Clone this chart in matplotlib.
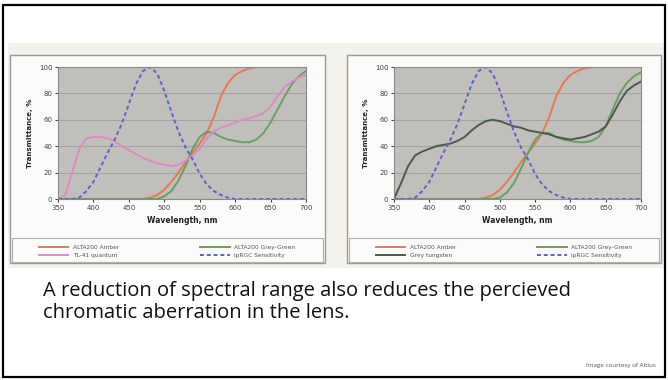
import numpy as np
import matplotlib.pyplot as plt
from matplotlib.patches import Rectangle

# Spectral transmittance curves
wl = [350, 360, 370, 380, 390, 400, 410, 420, 430, 440, 450, 460, 470, 480, 490,
      500, 510, 520, 530, 540, 550, 560, 570, 580, 590, 600, 610, 620, 630, 640,
      650, 660, 670, 680, 690, 700]

amber = [0, 0, 0, 0, 0, 0, 0, 0, 0, 0, 0, 0, 0, 1, 3,
         7, 13, 20, 28, 35, 42, 50, 62, 78, 88, 94, 97, 99, 100, 100,
         100, 100, 100, 100, 100, 100]

grey_green = [0, 0, 0, 0, 0, 0, 0, 0, 0, 0, 0, 0, 0, 0, 0,
              2, 6, 14, 25, 38, 47, 51, 50, 47, 45, 44, 43, 43, 45, 50,
              58, 68, 78, 87, 93, 97]

tl41 = [0, 3, 20, 38, 46, 47, 47, 46, 44, 40, 37, 34, 31, 29, 27,
        26, 25, 26, 29, 33, 38, 46, 51, 54, 56, 58, 60, 61, 63, 65,
        70, 78, 85, 89, 92, 94]

iprgc = [0, 0, 0, 1, 6, 13, 24, 35, 45, 57, 72, 87, 97, 100, 95,
         82, 66, 51, 39, 30, 19, 11, 6, 3, 1, 0, 0, 0, 0, 0,
         0, 0, 0, 0, 0, 0]

grey_green_r = [0, 0, 0, 0, 0, 0, 0, 0, 0, 0, 0, 0, 0, 0, 0,
                1, 5, 12, 23, 35, 45, 50, 50, 47, 45, 44, 43, 43, 44, 47,
                55, 68, 80, 88, 93, 96]

grey_lens = [0, 12, 25, 33, 36, 38, 40, 41, 42, 44, 47, 52, 56, 59, 60,
             59, 57, 55, 54, 52, 51, 50, 49, 47, 46, 45, 46, 47, 49, 51,
             55, 64, 74, 82, 86, 89]

xticks = [350, 400, 450, 500, 550, 600, 650, 700]
yticks = [0, 20, 40, 60, 80, 100]

W, H = 668, 380
fig = plt.figure(figsize=(W / 100, H / 100), dpi=100)
fig.patch.set_facecolor('white')


def px_rect(x0, y0, x1, y1):
    return [x0 / W, 1 - y1 / H, (x1 - x0) / W, (y1 - y0) / H]


def box(x0, y0, x1, y1, z=-5, **kw):
    fig.patches.append(Rectangle((x0 / W, 1 - y1 / H), (x1 - x0) / W, (y1 - y0) / H,
                                 transform=fig.transFigure, zorder=z, **kw))


# slide frame and pasted image backgrounds
box(3, 5, 665, 377, z=10, facecolor='none', edgecolor='black', linewidth=1.6)
box(8, 43, 664, 268, z=-10, facecolor='#f4f2ed', edgecolor='none')
box(10, 55, 325, 263, z=-9, facecolor='#fbfbf9', edgecolor='#9a9a9a', linewidth=1.0)
box(347, 55, 661, 263, z=-9, facecolor='#fbfbf9', edgecolor='#9a9a9a', linewidth=1.0)
# legend frames
box(12, 238, 323, 262, z=-8, facecolor='none', edgecolor='#b0b0b0', linewidth=0.8)
box(349, 238, 659, 262, z=-8, facecolor='none', edgecolor='#b0b0b0', linewidth=0.8)

c_amber = '#e27a55'
c_green = '#6a9e62'
c_pink = '#dc8cc4'
c_blue = '#6060c4'
c_dark = '#4c5a4c'


def setup(ax):
    ax.set_facecolor('#c1bfbc')
    ax.set_xlim(350, 700)
    ax.set_ylim(0, 100)
    ax.set_xticks(xticks)
    ax.set_yticks(yticks)
    ax.tick_params(labelsize=5, length=2, colors='#444444', pad=2)
    ax.yaxis.grid(True, color='#a4a4a4', linewidth=0.8)
    ax.set_axisbelow(True)
    for s in ax.spines.values():
        s.set_color('#8a8a8a')
        s.set_linewidth(0.8)
    ax.set_xlabel('Wavelength, nm', fontsize=5.5, fontweight='bold', labelpad=4,
                  color='#222222')
    ax.set_ylabel('Transmittance, %', fontsize=5, fontweight='bold', labelpad=4,
                  color='#222222')


order = [0, 2, 1, 3]
leg_kw = dict(ncol=2, fontsize=4.2, loc='center', frameon=False, columnspacing=14,
              handlelength=5, borderpad=0.2, labelspacing=0.5, labelcolor='#555555')
lw = 1.4

ax1 = fig.add_axes(px_rect(58, 67, 306, 199))
setup(ax1)
ax1.plot(wl, amber, color=c_amber, lw=lw, label='ALTA200 Amber')
ax1.plot(wl, grey_green, color=c_green, lw=lw, label='ALTA200 Grey-Green')
ax1.plot(wl, tl41, color=c_pink, lw=lw, label='TL-41 quantum')
ax1.plot(wl, iprgc, color=c_blue, lw=lw, ls=(0, (2, 1.5)), label='ipRGC Sensitivity')
h1, l1 = ax1.get_legend_handles_labels()
fig.legend([h1[i] for i in order], [l1[i] for i in order],
           bbox_to_anchor=(167 / W, 1 - 251 / H), **leg_kw)

ax2 = fig.add_axes(px_rect(394, 67, 641, 199))
setup(ax2)
ax2.plot(wl, amber, color=c_amber, lw=lw, label='ALTA200 Amber')
ax2.plot(wl, grey_green_r, color=c_green, lw=lw, label='ALTA200 Grey-Green')
ax2.plot(wl, grey_lens, color=c_dark, lw=lw, label='Grey tungsten')
ax2.plot(wl, iprgc, color=c_blue, lw=lw, ls=(0, (2, 1.5)), label='ipRGC Sensitivity')
h2, l2 = ax2.get_legend_handles_labels()
fig.legend([h2[i] for i in order], [l2[i] for i in order],
           bbox_to_anchor=(504 / W, 1 - 251 / H), **leg_kw)

fig.text(43 / W, 1 - 302 / H,
         'A reduction of spectral range also reduces the percieved\n'
         'chromatic aberration in the lens.',
         fontsize=14.5, family='Open Sans', color='#111111', va='center', ha='left',
         linespacing=1.1)
fig.text(656 / W, 1 - 366 / H, 'Image courtesy of Altius', fontsize=4.5,
         family='Open Sans', color='#555555', ha='right', va='center')

fig.savefig('out.png', dpi=100)
